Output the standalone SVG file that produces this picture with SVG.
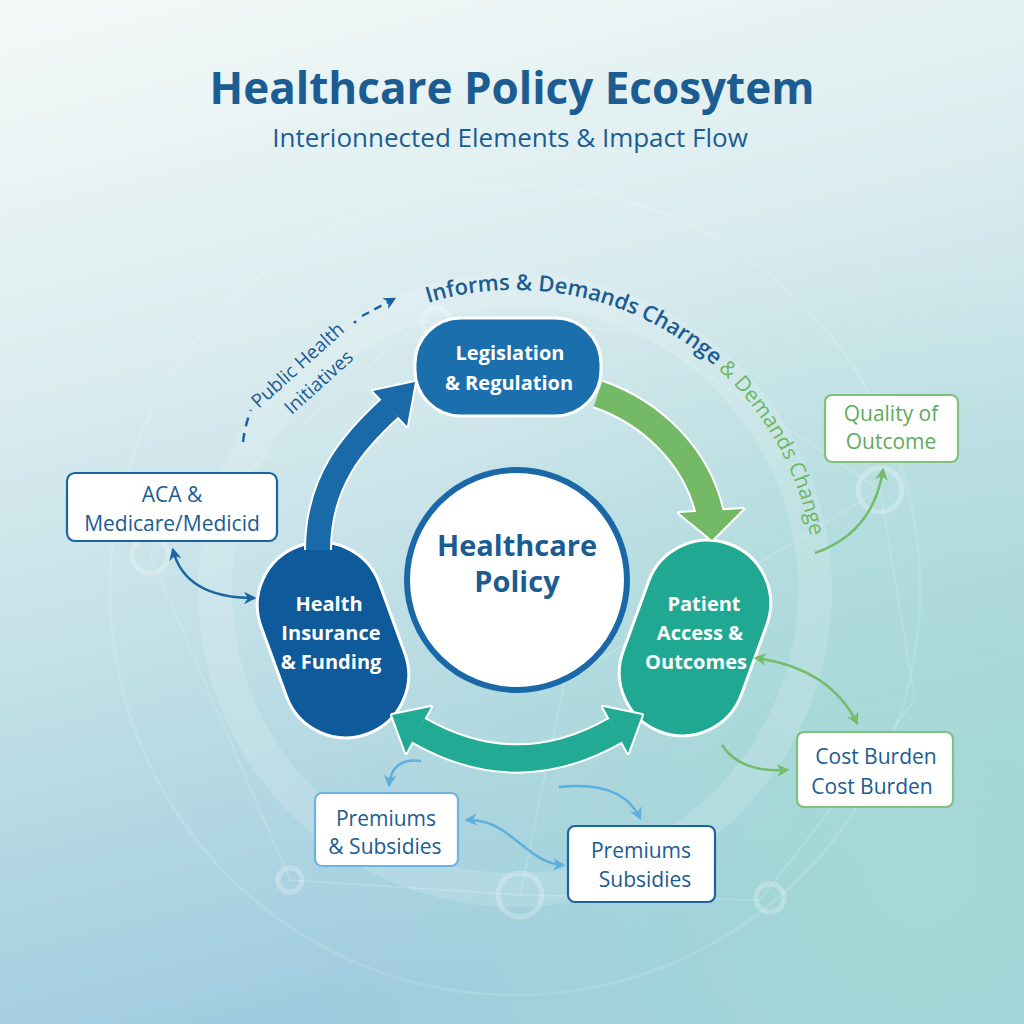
<svg xmlns="http://www.w3.org/2000/svg" width="1024" height="1024" viewBox="0 0 1024 1024">
<defs>
<linearGradient id="bg" x1="0" y1="0" x2="0.25" y2="1">
<stop offset="0" stop-color="#f4f9f7"/>
<stop offset="0.35" stop-color="#dcedef"/>
<stop offset="0.75" stop-color="#b6dae3"/>
<stop offset="1" stop-color="#a0cbe0"/>
</linearGradient>
<radialGradient id="tealglow" cx="0.9" cy="0.85" r="0.6">
<stop offset="0" stop-color="#a6dcd3" stop-opacity="0.8"/>
<stop offset="1" stop-color="#a6dcd3" stop-opacity="0"/>
</radialGradient>
<marker id="mBlue" viewBox="0 0 10 10" refX="8" refY="5" markerWidth="5" markerHeight="5" orient="auto-start-reverse" markerUnits="strokeWidth"><path d="M0,0 L10,5 L0,10 L3,5 z" fill="#1a65a0"/></marker>
<marker id="mGreen" viewBox="0 0 10 10" refX="8" refY="5" markerWidth="5" markerHeight="5" orient="auto-start-reverse" markerUnits="strokeWidth"><path d="M0,0 L10,5 L0,10 L3,5 z" fill="#74bb6a"/></marker>
<marker id="mLight" viewBox="0 0 10 10" refX="8" refY="5" markerWidth="5" markerHeight="5" orient="auto-start-reverse" markerUnits="strokeWidth"><path d="M0,0 L10,5 L0,10 L3,5 z" fill="#5db0de"/></marker>
<path id="arcText" d="M 422.3 304.7 A 300 300 0 0 1 813.4 558.6"/>
<style>
.title{font-family:"Open Sans","Liberation Sans",sans-serif;font-weight:700;font-size:44px;fill:#1b5c92}
.sub{font-family:"Open Sans","Liberation Sans",sans-serif;font-size:26px;fill:#1b5c92}
.pill{stroke:#ffffff;stroke-width:3}
.wt{font-family:"Open Sans","Liberation Sans",sans-serif;font-weight:700;font-size:20px;fill:#ffffff;text-anchor:middle}
.box{fill:#ffffff;stroke-width:2.2}
.bt{font-family:"Open Sans","Liberation Sans",sans-serif;font-size:21px;text-anchor:middle}
.thin{fill:none;stroke-width:2.5}
.deco{fill:none;stroke:#ffffff;stroke-opacity:0.25;stroke-width:5}
.arcB{font-family:"Open Sans","Liberation Sans",sans-serif;font-size:22px;font-weight:600;fill:#1b5c92}
.arcG{font-family:"Open Sans","Liberation Sans",sans-serif;font-size:21px;fill:#6db862}
</style>
</defs>
<rect width="1024" height="1024" fill="url(#bg)"/>
<rect width="1024" height="1024" fill="url(#tealglow)"/>

<g id="background-decoration">
<circle cx="515" cy="590" r="300" fill="none" stroke="#ffffff" stroke-opacity="0.14" stroke-width="34"/>
<circle cx="515" cy="590" r="405" fill="none" stroke="#ffffff" stroke-opacity="0.12" stroke-width="3"/>
<g stroke="#ffffff" stroke-opacity="0.18" stroke-width="1.5" fill="none">
<path d="M150 555 L250 470 L420 322 L640 330 L880 490 L915 700 L760 900 L520 895 L290 880 L150 555"/>
<path d="M520 895 L565 680 L880 490"/>
</g>
<circle class="deco" cx="150" cy="555" r="18"/>
<circle class="deco" cx="880" cy="490" r="22"/>
<circle class="deco" cx="520" cy="895" r="22"/>
<circle class="deco" cx="436" cy="322" r="14"/>
<circle class="deco" cx="770" cy="898" r="14"/>
<circle class="deco" cx="290" cy="880" r="12"/>
</g>

<g id="title">
<text class="title" x="512" y="104" text-anchor="middle">Healthcare Policy Ecosytem</text>
<text class="sub" x="510" y="147" text-anchor="middle">Interionnected Elements &amp; Impact Flow</text>
</g>

<g id="center-node">
<circle cx="517" cy="580" r="110" fill="#ffffff" stroke="#1a68a8" stroke-width="6"/>
<text x="517" y="556" text-anchor="middle" font-family="Open Sans, Liberation Sans, sans-serif" font-weight="700" font-size="29" fill="#1b5c92">Healthcare</text>
<text x="517" y="592" text-anchor="middle" font-family="Open Sans, Liberation Sans, sans-serif" font-weight="700" font-size="29" fill="#1b5c92">Policy</text>
</g>

<g id="node-legislation">
<rect class="pill" x="415" y="318" width="186" height="98" rx="46" fill="#1b6fad"/>
<text class="wt" x="510" y="360" font-size="21">Legislation</text>
<text class="wt" x="509" y="390" font-size="21">&amp; Regulation</text>
</g>

<g id="node-insurance">
<rect class="pill" x="-63" y="-100" width="126" height="200" rx="63" fill="#0f5a9b" transform="translate(333,640) rotate(-20)"/>
<text class="wt" x="329" y="611">Health</text>
<text class="wt" x="331" y="640">Insurance</text>
<text class="wt" x="331" y="669">&amp; Funding</text>
</g>

<g id="node-patient">
<rect class="pill" x="-63" y="-100" width="126" height="200" rx="63" fill="#20a892" transform="translate(695,638) rotate(20)"/>
<text class="wt" x="704" y="611">Patient</text>
<text class="wt" x="700" y="640">Access &amp;</text>
<text class="wt" x="696" y="669">Outcomes</text>
</g>

<g id="node-aca">
<rect class="box" x="67" y="473" width="210" height="68" rx="8" stroke="#1a65a0"/>
<text class="bt" x="172" y="502" fill="#1b5c92">ACA &amp;</text>
<text class="bt" x="172" y="531" fill="#1b5c92">Medicare/Medicid</text>
</g>

<g id="node-quality">
<rect class="box" x="825" y="395" width="133" height="67" rx="7" stroke="#7fc07a"/>
<text class="bt" x="891" y="421" fill="#5fa95a">Quality of</text>
<text class="bt" x="891" y="449" fill="#5fa95a">Outcome</text>
</g>

<g id="node-cost">
<rect class="box" x="797" y="732" width="156" height="75" rx="7" stroke="#7fc07a"/>
<text class="bt" x="876" y="764" fill="#1b5c92">Cost Burden</text>
<text class="bt" x="872" y="794" fill="#1b5c92">Cost Burden</text>
</g>

<g id="node-premiums-left">
<rect class="box" x="315" y="793" width="143" height="73" rx="7" stroke="#6cb5e2"/>
<text class="bt" x="386" y="826" fill="#1b5c92">Premiums</text>
<text class="bt" x="385" y="854" fill="#1b5c92">&amp; Subsidies</text>
</g>

<g id="node-premiums-right">
<rect class="box" x="568" y="826" width="147" height="76" rx="7" stroke="#1a65a0" stroke-width="2.6"/>
<text class="bt" x="641" y="858" fill="#1b5c92">Premiums</text>
<text class="bt" x="645" y="887" fill="#1b5c92">Subsidies</text>
</g>

<g id="connectors">
<path d="M 318 550 C 318 480 355 440 390 408" fill="none" stroke="#ffffff" stroke-width="28"/>
<polygon points="415,382 407,426 373,391" fill="#ffffff" stroke="#ffffff" stroke-width="4" stroke-linejoin="round"/>
<path d="M 318 550 C 318 480 355 440 390 408" fill="none" stroke="#1a6aaa" stroke-width="24"/>
<polygon points="415,382 407,426 373,391" fill="#1a6aaa"/>

<path d="M 598 394 C 650 412 697 455 710 514" fill="none" stroke="#ffffff" stroke-width="30"/>
<polygon points="679,513 743,509 712,540" fill="#ffffff" stroke="#ffffff" stroke-width="4" stroke-linejoin="round"/>
<path d="M 598 394 C 650 412 697 455 710 514" fill="none" stroke="#74b966" stroke-width="26"/>
<polygon points="679,513 743,509 712,540" fill="#74b966"/>

<path d="M 418 730 Q 517 787 616 730" fill="none" stroke="#ffffff" stroke-width="30"/>
<polygon points="392,715 431,707 406,753" fill="#ffffff" stroke="#ffffff" stroke-width="4" stroke-linejoin="round"/>
<polygon points="642,715 603,707 628,753" fill="#ffffff" stroke="#ffffff" stroke-width="4" stroke-linejoin="round"/>
<path d="M 418 730 Q 517 787 616 730" fill="none" stroke="#22aa94" stroke-width="26"/>
<polygon points="392,715 431,707 406,753" fill="#22aa94"/>
<polygon points="642,715 603,707 628,753" fill="#22aa94"/>

<path class="thin" d="M 173 550 Q 185 598 254 598" stroke="#1a65a0" marker-start="url(#mBlue)" marker-end="url(#mBlue)"/>

<path d="M 243 442 Q 245 425 251 410" fill="none" stroke="#1a65a0" stroke-width="2.5" stroke-dasharray="9 7"/>
<path d="M 362 316 L 394 299" fill="none" stroke="#1a65a0" stroke-width="2.5" stroke-dasharray="8 6" marker-end="url(#mBlue)"/>
<circle cx="355" cy="322" r="1.6" fill="#1a65a0"/>

<path class="thin" d="M 815 553 Q 873 533 883 470" stroke="#74bb6a" marker-end="url(#mGreen)"/>
<path class="thin" d="M 756 658 Q 830 668 857 723" stroke="#74bb6a" marker-start="url(#mGreen)" marker-end="url(#mGreen)"/>
<path class="thin" d="M 722 745 Q 740 773 787 770" stroke="#74bb6a" marker-end="url(#mGreen)"/>

<path class="thin" d="M 421 761 Q 392 757 389 785" stroke="#5db0de" marker-end="url(#mLight)"/>
<path class="thin" d="M 559 787 Q 622 780 640 818" stroke="#5db0de" marker-end="url(#mLight)"/>
<path class="thin" d="M 467 820 C 510 818 525 863 563 865" stroke="#5db0de" marker-start="url(#mLight)" marker-end="url(#mLight)"/>
</g>

<g id="labels">
<text class="arcB"><textPath href="#arcText" startOffset="6">Informs &amp; Demands</textPath></text>
<text class="arcB"><textPath href="#arcText" startOffset="223">Charnge</textPath></text>
<text class="arcG"><textPath href="#arcText" startOffset="317">&amp; Demands Change</textPath></text>
<text x="302" y="370" text-anchor="middle" transform="rotate(-42 302 370)" font-family="Open Sans, Liberation Sans, sans-serif" font-size="19" fill="#1b5c92">Public Health</text>
<text x="323" y="387" text-anchor="middle" transform="rotate(-42 323 387)" font-family="Open Sans, Liberation Sans, sans-serif" font-size="19" fill="#1b5c92">Initiatives</text>
</g>
</svg>
